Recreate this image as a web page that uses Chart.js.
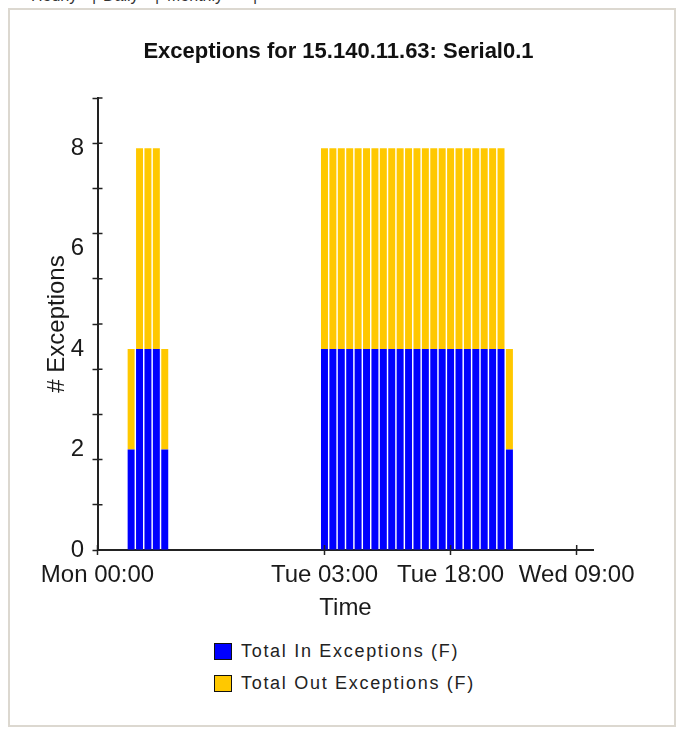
<!DOCTYPE html>
<html>
<head>
<meta charset="utf-8">
<title>Exceptions for 15.140.11.63: Serial0.1</title>
<script src="https://cdn.jsdelivr.net/npm/chart.js@4.4.1/dist/chart.umd.min.js"></script>
<style>
    html, body { margin: 0; padding: 0; background: #fff; }
    body { width: 677px; height: 729px; position: relative; overflow: hidden; font-family: 'Liberation Sans', Arial, sans-serif; }
    .tab { position: absolute; top: -12px; font-size: 16px; line-height: 16px; color: #333; }
    #panel { position: absolute; left: 8px; top: 8px; width: 664px; height: 715px; border: 2px solid #dcd8d0; background: #fff; }
    #chart { position: absolute; left: 0; top: 0; }
    #legend { position: absolute; left: 214px; top: 642px; }
    .legend-item { display: flex; align-items: center; height: 18px; margin-bottom: 14px; font-size: 18px; letter-spacing: 1.7px; color: #222; }
    .legend-box { width: 16px; height: 15px; border: 1.5px solid #111; margin-right: 9px; }
</style>
</head>
<body>
<span class="tab" style="left:31px">Hourly</span>
<span class="tab" style="left:92px">|</span>
<span class="tab" style="left:103px">Daily</span>
<span class="tab" style="left:155px">|</span>
<span class="tab" style="left:167px">Monthly</span>
<span class="tab" style="left:253px">|</span>
<div id="panel"></div>
<canvas id="chart" width="677" height="630"></canvas>
<div id="legend"></div>
<script>
// Horas contadas desde Mon 00:00, una barra por hora
const hours = [4, 5, 6, 7, 8,
    27, 28, 29, 30, 31, 32, 33, 34, 35, 36, 37, 38, 39, 40, 41, 42, 43, 44, 45, 46, 47, 48, 49];
const inExceptions = [2, 4, 4, 4, 2,
    4, 4, 4, 4, 4, 4, 4, 4, 4, 4, 4, 4, 4, 4, 4, 4, 4, 4, 4, 4, 4, 4, 2];
const outExceptions = [2, 4, 4, 4, 2,
    4, 4, 4, 4, 4, 4, 4, 4, 4, 4, 4, 4, 4, 4, 4, 4, 4, 4, 4, 4, 4, 4, 2];
const seriesNames = ['Total In Exceptions (F)', 'Total Out Exceptions (F)'];

// Etiquetas de los ejes
const xTickHours = [0, 27, 42, 57];
const xTickLabels = ['Mon 00:00', 'Tue 03:00', 'Tue 18:00', 'Wed 09:00'];
const yTickLabels = [0, 2, 4, 6, 8];

const FONT = "'Liberation Sans', Arial, sans-serif";
const INK = '#1a1a1a';

// Las marcas del eje cruzan la línea del eje (también hacia dentro)
const crossTicks = {
    id: 'crossTicks',
    afterDraw(chart) {
        const { ctx, chartArea, scales } = chart;
        ctx.save();
        ctx.strokeStyle = '#222';
        ctx.lineWidth = 1.5;
        ctx.beginPath();
        scales.x.ticks.forEach((t, i) => {
            const px = scales.x.getPixelForTick(i);
            ctx.moveTo(px, chartArea.bottom);
            ctx.lineTo(px, chartArea.bottom - 5);
        });
        scales.y.ticks.forEach((t, i) => {
            if (!t.mark) return;
            const py = scales.y.getPixelForTick(i);
            ctx.moveTo(chartArea.left, py);
            ctx.lineTo(chartArea.left + 5, py);
        });
        ctx.stroke();
        ctx.restore();
    }
};

const chart = new Chart(document.getElementById('chart'), {
    type: 'bar',
    data: {
        datasets: [{
            label: seriesNames[0],
            data: hours.map((h, i) => ({ x: h, y: inExceptions[i] })),
            backgroundColor: '#0000ff',
            categoryPercentage: 1,
            barPercentage: 0.83
        }, {
            label: seriesNames[1],
            data: hours.map((h, i) => ({ x: h, y: outExceptions[i] })),
            backgroundColor: '#ffc800',
            categoryPercentage: 1,
            barPercentage: 0.83
        }]
    },
    options: {
        responsive: false,
        animation: false,
        layout: { padding: { left: 0, top: 0, right: 0, bottom: 0 } },
        plugins: {
            legend: { display: false },
            tooltip: { enabled: false },
            title: {
                display: true,
                text: 'Exceptions for 15.140.11.63: Serial0.1',
                color: '#111',
                font: { family: FONT, size: 22, weight: 'bold', lineHeight: 1.2 },
                padding: { top: 39, bottom: 32.6 }
            }
        },
        scales: {
            x: {
                type: 'linear',
                stacked: true,
                offset: false,
                min: 0,
                max: 59,
                afterBuildTicks: s => { s.ticks = xTickHours.map(v => ({ value: v })); },
                afterFit: s => { s.height = 80; s.paddingRight = 83.5; },
                ticks: {
                    autoSkip: false,
                    maxRotation: 0,
                    padding: 6,
                    color: INK,
                    font: { family: FONT, size: 24 },
                    callback: (v, i) => xTickLabels[i]
                },
                grid: { offset: false, drawOnChartArea: false, tickLength: 5, tickColor: '#222', tickWidth: 1.5 },
                border: { display: true, color: '#222', width: 2 },
                title: {
                    display: true, text: 'Time', color: INK,
                    font: { family: FONT, size: 24 },
                    padding: { top: 0, bottom: 7.6 }
                }
            },
            y: {
                stacked: true,
                min: 0,
                max: 9,
                afterBuildTicks: s => {
                    // marcas cada 0.9, etiquetas cada 2 (como en el original)
                    const t = [];
                    for (let i = 0; i <= 10; i++) t.push({ value: +(i * 0.9).toFixed(2), mark: true });
                    yTickLabels.forEach(v => { if (v !== 0) t.push({ value: v, mark: false }); });
                    t.sort((a, b) => a.value - b.value);
                    s.ticks = t;
                },
                afterFit: s => { s.width = 97.5; },
                ticks: {
                    autoSkip: false,
                    padding: 8.5,
                    color: INK,
                    font: { family: FONT, size: 24 },
                    callback: v => yTickLabels.includes(v) ? String(v) : ''
                },
                grid: {
                    drawOnChartArea: false,
                    tickLength: 5,
                    tickWidth: 1.5,
                    tickColor: c => (c.tick && c.tick.mark) ? '#222' : 'rgba(0,0,0,0)'
                },
                border: { display: true, color: '#222', width: 2 },
                title: {
                    display: true, text: '# Exceptions', color: INK,
                    font: { family: FONT, size: 24 },
                    padding: { top: 42.6, bottom: 0 }
                }
            }
        }
    },
    plugins: [crossTicks]
});

// Leyenda en HTML, una fila por serie
const legend = document.getElementById('legend');
chart.data.datasets.forEach(ds => {
    const item = document.createElement('div');
    item.className = 'legend-item';
    const box = document.createElement('span');
    box.className = 'legend-box';
    box.style.background = ds.backgroundColor;
    const text = document.createElement('span');
    text.textContent = ds.label;
    item.appendChild(box);
    item.appendChild(text);
    legend.appendChild(item);
});
</script>
</body>
</html>
